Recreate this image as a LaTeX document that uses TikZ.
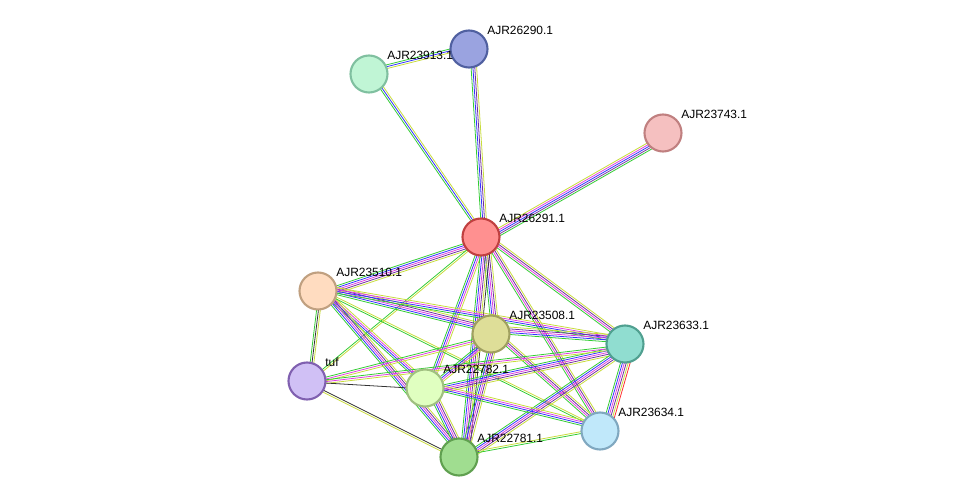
\documentclass[tikz,border=0pt]{standalone}
\usepackage{fontspec}
\setmainfont{Liberation Sans}
\usetikzlibrary{calc}
\definecolor{sg}{HTML}{33CC33}
\definecolor{sb}{HTML}{3333FF}
\definecolor{sm}{HTML}{E040E0}
\definecolor{sp}{HTML}{7030A0}
\definecolor{ty}{HTML}{C8DC3C}
\definecolor{sk}{HTML}{333333}
\definecolor{sr}{HTML}{FF3030}
\tikzset{
  prot/.style={circle, draw, line width=1.2pt, minimum size=0.74cm, inner sep=0pt},
  lbl/.style={anchor=south west, inner sep=0pt, font=\fontsize{6.8}{8}\selectfont},
  edge/.style={line width=0.45pt}
}
% one coloured strand per evidence channel
\newcommand{\lnk}[3]{%
  \foreach \c [count=\i] in {#3}{%
    \pgfmathsetmacro\o{(\i-0.5)*1.05}%
    \draw[\c,edge] ($(#1)!\o pt!90:(#2)$) -- ($(#2)!\o pt!-90:(#1)$);}}
\begin{document}
\begin{tikzpicture}[x=0.02cm,y=0.02cm]
\useasboundingbox (0,0) rectangle (975,-503);
% Protein positions
\coordinate (p26290) at (469,-49);
\coordinate (p23913) at (369,-74);
\coordinate (p23743) at (663,-133);
\coordinate (p26291) at (481,-237);
\coordinate (p23510) at (318,-291);
\coordinate (p23508) at (491,-334);
\coordinate (p23633) at (625,-344);
\coordinate (ptuf) at (307,-381);
\coordinate (p22782) at (425,-388);
\coordinate (p23634) at (600,-431);
\coordinate (p22781) at (459,-457);

% Edges
\lnk{p23913}{p26290}{ty,sb,sg}
\lnk{p26290}{p26291}{sg,sb,sp,ty}
\lnk{p23913}{p26291}{sg,sb,ty}
\lnk{p23743}{p26291}{ty,sm,sb,sp,sg}
\lnk{p26291}{p23510}{sg,sb,sm,sp,ty}
\lnk{p26291}{p23508}{sg,sb,sm,sp,ty}
\lnk{p26291}{p23633}{sg,sm,sp,ty}
\lnk{p26291}{p22782}{sg,sb,sm,ty}
\lnk{p26291}{p23634}{sg,sm,sp,ty}
\lnk{p26291}{p22781}{sg,sb,sm,sp,ty,sk}
\lnk{p26291}{ptuf}{sg,ty}
\lnk{p23510}{p23508}{sg,sb,sm,sp,ty}
\lnk{p23510}{p23633}{sg,sb,sm,ty}
\lnk{p23510}{p22782}{sg,sb,sm,ty}
\lnk{p23510}{p22781}{sg,sb,sm,sp,ty}
\lnk{p23510}{ptuf}{sg,sk,ty}
\lnk{p23510}{p23634}{sg,ty}
\lnk{p23508}{p23633}{sg,sb,sm,sp,ty}
\lnk{p23508}{p22782}{sg,sb,sm,ty}
\lnk{p23508}{p22781}{sg,sb,sm,sp,ty}
\lnk{p23508}{p23634}{sg,sm,sp,ty}
\lnk{p23508}{ptuf}{sg,sm,ty}
\lnk{p23633}{p22782}{sg,sb,sm,sp,ty}
\lnk{p23633}{p22781}{sg,sb,sm,sp,ty}
\lnk{p23633}{p23634}{sg,sb,sm,sp,ty,sr}
\lnk{p23633}{ptuf}{sg,sm,ty}
\lnk{p22782}{p22781}{sg,sb,sm,sp,ty}
\lnk{p22782}{p23634}{sg,sb,sm,ty}
\lnk{p22782}{ptuf}{sk}
\lnk{p22781}{p23634}{sg,ty}
\lnk{p22781}{ptuf}{sk,ty}

% Nodes
\node[prot, fill={rgb,255:red,154;green,163;blue,224}, draw={rgb,255:red,80;green,96;blue,160}] (n26290) at (p26290) {};
\node[prot, fill={rgb,255:red,192;green,245;blue,213}, draw={rgb,255:red,128;green,192;blue,160}] (n23913) at (p23913) {};
\node[prot, fill={rgb,255:red,245;green,192;blue,192}, draw={rgb,255:red,192;green,128;blue,128}] (n23743) at (p23743) {};
\node[prot, fill={rgb,255:red,255;green,144;blue,144}, draw={rgb,255:red,192;green,64;blue,64}] (n26291) at (p26291) {};
\node[prot, fill={rgb,255:red,255;green,220;blue,192}, draw={rgb,255:red,192;green,160;blue,128}] (n23510) at (p23510) {};
\node[prot, fill={rgb,255:red,222;green,222;blue,152}, draw={rgb,255:red,160;green,160;blue,96}] (n23508) at (p23508) {};
\node[prot, fill={rgb,255:red,144;green,221;blue,208}, draw={rgb,255:red,80;green,160;blue,144}] (n23633) at (p23633) {};
\node[prot, fill={rgb,255:red,208;green,192;blue,245}, draw={rgb,255:red,128;green,96;blue,176}] (ntuf) at (ptuf) {};
\node[prot, fill={rgb,255:red,224;green,255;blue,192}, draw={rgb,255:red,160;green,192;blue,128}] (n22782) at (p22782) {};
\node[prot, fill={rgb,255:red,192;green,232;blue,250}, draw={rgb,255:red,128;green,168;blue,192}] (n23634) at (p23634) {};
\node[prot, fill={rgb,255:red,160;green,221;blue,144}, draw={rgb,255:red,96;green,160;blue,80}] (n22781) at (p22781) {};

% Labels
\node[lbl] at ($(p26290)+(18,14)$) {AJR26290.1};
\node[lbl] at ($(p23913)+(18,14)$) {AJR23913.1};
\node[lbl] at ($(p23743)+(18,14)$) {AJR23743.1};
\node[lbl] at ($(p26291)+(18,14)$) {AJR26291.1};
\node[lbl] at ($(p23510)+(18,14)$) {AJR23510.1};
\node[lbl] at ($(p23508)+(18,14)$) {AJR23508.1};
\node[lbl] at ($(p23633)+(18,14)$) {AJR23633.1};
\node[lbl] at ($(ptuf)+(18,14)$) {tuf};
\node[lbl] at ($(p22782)+(18,14)$) {AJR22782.1};
\node[lbl] at ($(p23634)+(18,14)$) {AJR23634.1};
\node[lbl] at ($(p22781)+(18,14)$) {AJR22781.1};
\end{tikzpicture}
\end{document}
